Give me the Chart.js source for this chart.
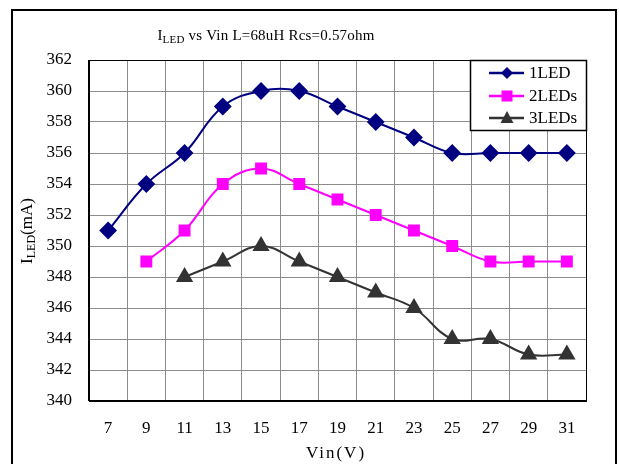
<!DOCTYPE html>
<html>
<head>
<meta charset="utf-8">
<script src="https://cdn.jsdelivr.net/npm/chart.js@4/dist/chart.umd.min.js"></script>
<style>
html,body{margin:0;padding:0;background:#fff;}
#wrap{position:relative;width:619px;height:464px;}
</style>
</head>
<body>
<div id="wrap"><canvas id="c" width="619" height="464"></canvas></div>
<script>
const categories = ['7','9','11','13','15','17','19','21','23','25','27','29','31'];
const led1 = [351,354,356,359,360,360,359,358,357,356,356,356,356];
const led2 = [null,349,351,354,355,354,353,352,351,350,349,349,349];
const led3 = [null,null,348,349,350,349,348,347,346,344,344,343,343];
const seriesNames = ['1LED','2LEDs','3LEDs'];
const yTicks = {min:340, max:362, step:2};
const titleMain = 'I', titleSub = 'LED', titleRest = ' vs Vin L=68uH Rcs=0.57ohm';
const yTitleMain = 'I', yTitleSub = 'LED', yTitleRest = '(mA)';
const xTitle = 'Vin(V)';

const FONT = '"Liberation Serif", "DejaVu Serif", serif';

function drawSubText(ctx, x, y, parts, size, spacing) {
  let cx = x;
  for (const [t, sub] of parts) {
    const fs = sub ? Math.round(size*0.72) : size;
    ctx.font = fs + 'px ' + FONT;
    ctx.letterSpacing = spacing + 'px';
    ctx.fillText(t, cx, sub ? y + size*0.18 : y);
    cx += ctx.measureText(t).width;
  }
  return cx - x;
}
function measureSub(ctx, parts, size, spacing) {
  let w = 0;
  for (const [t, sub] of parts) {
    const fs = sub ? Math.round(size*0.72) : size;
    ctx.font = fs + 'px ' + FONT;
    ctx.letterSpacing = spacing + 'px';
    w += ctx.measureText(t).width;
  }
  return w;
}

const decor = {
  id: 'decor',
  beforeDraw(chart) {
    const ctx = chart.ctx;
    ctx.save();
    ctx.fillStyle = '#fff';
    ctx.fillRect(0,0,chart.width,chart.height);
    ctx.strokeStyle = '#000';
    ctx.lineWidth = 2;
    ctx.beginPath();
    ctx.moveTo(12, 470); ctx.lineTo(12, 10); ctx.lineTo(616, 10); ctx.lineTo(616, 470);
    ctx.stroke();
    ctx.restore();
  },
  afterDraw(chart) {
    const ctx = chart.ctx;
    const ca = chart.chartArea;
    ctx.save();
    ctx.strokeStyle = '#000';
    ctx.lineWidth = 1;
    ctx.strokeRect(ca.left+0.5, ca.top+0.5, ca.right-ca.left, ca.bottom-ca.top);
    ctx.lineWidth = 2;
    ctx.beginPath(); ctx.moveTo(ca.left, ca.bottom); ctx.lineTo(ca.right, ca.bottom); ctx.stroke();
    ctx.beginPath(); ctx.moveTo(ca.left, ca.top); ctx.lineTo(ca.left, ca.bottom); ctx.stroke();

    ctx.fillStyle = '#000';
    ctx.textBaseline = 'alphabetic';
    ctx.textAlign = 'left';
    const tParts = [[titleMain,false],[titleSub,true],[titleRest,false]];
    const tw = measureSub(ctx, tParts, 15, 0.2);
    drawSubText(ctx, 266 - tw/2, 40, tParts, 15, 0.2);
    ctx.save();
    ctx.translate(32, 231);
    ctx.rotate(-Math.PI/2);
    const yParts = [[yTitleMain,false],[yTitleSub,true],[yTitleRest,false]];
    const yw = measureSub(ctx, yParts, 17, 0);
    drawSubText(ctx, -yw/2, 0, yParts, 17, 0);
    ctx.restore();
    ctx.font = '17px ' + FONT;
    ctx.letterSpacing = '2px';
    ctx.textAlign = 'center';
    ctx.fillText(xTitle, 336, 458);
    ctx.letterSpacing = '0px';

    const lx = 470, ly = 60, lw = 116, lh = 70;
    ctx.fillStyle = '#fff';
    ctx.fillRect(lx, ly, lw, lh);
    ctx.strokeStyle = '#000';
    ctx.lineWidth = 1.5;
    ctx.strokeRect(lx+0.5, ly+0.5, lw, lh);
    const rows = [73, 96, 118];
    chart.data.datasets.forEach((ds, i) => {
      const y = rows[i];
      ctx.strokeStyle = ds.borderColor;
      ctx.lineWidth = 2.5;
      ctx.beginPath(); ctx.moveTo(489, y); ctx.lineTo(524, y); ctx.stroke();
      ctx.fillStyle = ds.backgroundColor;
      const r = 6;
      ctx.beginPath();
      if (ds.pointStyle === 'rectRot') {
        ctx.moveTo(507, y-r); ctx.lineTo(507+r, y); ctx.lineTo(507, y+r); ctx.lineTo(507-r, y);
      } else if (ds.pointStyle === 'rect') {
        ctx.rect(507-5.5, y-5.5, 11, 11);
      } else {
        ctx.moveTo(507, y-7); ctx.lineTo(507+6.5, y+5); ctx.lineTo(507-6.5, y+5);
      }
      ctx.closePath(); ctx.fill();
      ctx.fillStyle = '#000';
      ctx.textAlign = 'left';
      ctx.textBaseline = 'middle';
      ctx.font = '17px ' + FONT;
      ctx.fillText(ds.label, 529, y+1);
    });
    ctx.restore();
  }
};

new Chart(document.getElementById('c'), {
  type: 'line',
  data: {
    labels: categories,
    datasets: [
      {label: seriesNames[0], data: led1, borderColor:'#000080', backgroundColor:'#000080', pointStyle:'rectRot', pointRadius:7.5, borderWidth:2, tension:0.4},
      {label: seriesNames[1], data: led2, borderColor:'#FF00FF', backgroundColor:'#FF00FF', pointStyle:'rect', pointRadius:7, borderWidth:2, tension:0.4},
      {label: seriesNames[2], data: led3, borderColor:'#333333', backgroundColor:'#333333', pointStyle:'triangle', pointRadius:8, borderWidth:2, tension:0.4}
    ]
  },
  options: {
    responsive: false,
    animation: false,
    devicePixelRatio: 1,
    layout: {padding: {left: 0, right: 33, top: 60, bottom: 0}},
    plugins: {legend: {display:false}, title: {display:false}, tooltip: {enabled:false}},
    elements: {point: {borderWidth: 0}},
    scales: {
      x: {
        offset: true,
        grid: {offset: true, color: '#8c8c8c', lineWidth: 1, drawTicks: false},
        border: {display: false},
        ticks: {color:'#000', font: {family: FONT, size: 17}, padding: 17, maxRotation: 0, autoSkip: false},
        afterFit(s) { s.height = 63; }
      },
      y: {
        min: yTicks.min, max: yTicks.max,
        grid: {color: '#8c8c8c', lineWidth: 1, drawTicks: false},
        border: {display: false},
        ticks: {stepSize: yTicks.step, color:'#000', font: {family: FONT, size: 17}, padding: 17},
        afterFit(s) { s.width = 89; }
      }
    }
  },
  plugins: [decor]
});
</script>
</body>
</html>
